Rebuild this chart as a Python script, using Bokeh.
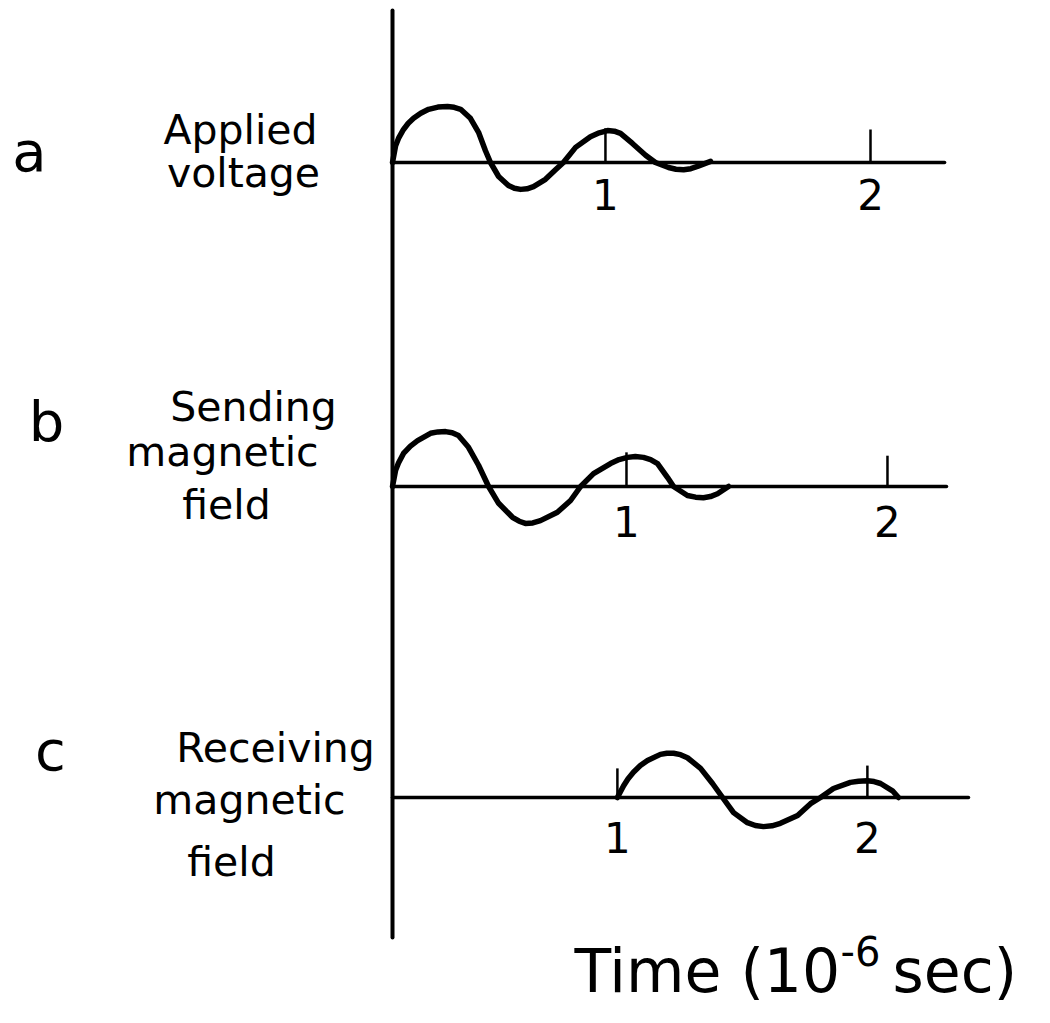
from bokeh.plotting import figure
from bokeh.models import Label, Range1d
from bokeh.embed import file_html
from bokeh.resources import INLINE
from bokeh.core.properties import value

# ---------------- data ----------------
# time in 10^-6 s, amplitude in arbitrary units (first peak of "a" = 1)
applied_t = [0.000, 0.013, 0.025, 0.046, 0.066, 0.088, 0.118, 0.151, 0.190, 0.230,
             0.258, 0.285, 0.326, 0.360, 0.389, 0.410, 0.444, 0.485, 0.510, 0.536,
             0.563, 0.590, 0.640, 0.682, 0.715, 0.766, 0.828, 0.865, 0.900, 0.928,
             0.954, 1.004, 1.059, 1.100, 1.155, 1.186, 1.218, 1.248, 1.276, 1.331]
applied_v = [0.00, 0.30, 0.43, 0.59, 0.70, 0.79, 0.88, 0.95, 0.99, 1.00,
             0.985, 0.95, 0.79, 0.54, 0.21, 0.00, -0.25, -0.41, -0.46, -0.48,
             -0.47, -0.43, -0.30, -0.13, 0.00, 0.27, 0.46, 0.53, 0.57, 0.56,
             0.52, 0.34, 0.13, 0.00, -0.09, -0.12, -0.13, -0.11, -0.07, 0.02]

sending_t = [0.000, 0.013, 0.025, 0.046, 0.075, 0.105, 0.159, 0.190, 0.222, 0.250,
             0.276, 0.318, 0.360, 0.402, 0.444, 0.502, 0.530, 0.556, 0.587, 0.619,
             0.690, 0.745, 0.787, 0.841, 0.912, 0.948, 0.983, 1.016, 1.050, 1.080,
             1.109, 1.151, 1.176, 1.234, 1.268, 1.301, 1.330, 1.360, 1.406]
sending_v = [0.00, 0.29, 0.42, 0.59, 0.72, 0.82, 0.95, 0.975, 0.98, 0.96,
             0.91, 0.70, 0.38, 0.00, -0.30, -0.55, -0.62, -0.66, -0.65, -0.61,
             -0.46, -0.25, 0.00, 0.23, 0.41, 0.48, 0.52, 0.535, 0.52, 0.48,
             0.41, 0.16, 0.00, -0.16, -0.19, -0.20, -0.18, -0.13, 0.00]

receiving_t = [0.941, 0.967, 0.985, 1.008, 1.037, 1.067, 1.121, 1.148, 1.176, 1.205,
               1.234, 1.289, 1.339, 1.381, 1.427, 1.485, 1.518, 1.552, 1.588, 1.623,
               1.695, 1.749, 1.791, 1.845, 1.916, 1.950, 1.987, 2.015, 2.042, 2.092,
               2.117]
receiving_v = [0.00, 0.21, 0.33, 0.45, 0.57, 0.66, 0.77, 0.79, 0.79, 0.765,
               0.71, 0.52, 0.25, 0.00, -0.27, -0.45, -0.50, -0.52, -0.505, -0.46,
               -0.32, -0.11, 0.00, 0.16, 0.27, 0.29, 0.30, 0.285, 0.25, 0.12,
               0.00]

tick_labels = ["1", "2"]
ticks_a = [0.891, 2.000]
ticks_b = [0.979, 2.071]
ticks_c = [0.941, 1.987]
tick_top_a = [0.61, 0.59]
tick_top_b = [0.61, 0.55]
tick_top_c = [0.52, 0.57]
baseline_end = [2.310, 2.318, 2.410]   # a, b, c

panel_letters = ["a", "b", "c"]
panel_names = [["Applied", "voltage"],
               ["Sending", "magnetic", "field"],
               ["Receiving", "magnetic", "field"]]
x_title_main = "Time (10"
x_title_sup = "-6"
x_title_end = "sec)"

# ---------------- layout ----------------
W, H = 1034, 1007
PX_T = 239.0          # pixels per microsecond
PX_A = 56.0           # pixels per amplitude unit
X0 = 392.0            # canvas x of t = 0
BASE_A = 162.0        # canvas y (from top) of each panel's baseline
BASE_B = 486.0
BASE_C = 797.0
SHIFT = 0.385         # baseline correction (em) for Bokeh's "alphabetic" anchor


def ydata(canvas_y):
    return (BASE_A - canvas_y) / PX_A


off = [ydata(BASE_A), ydata(BASE_B), ydata(BASE_C)]

p = figure(width=W, height=H, output_backend="svg", toolbar_location=None,
           x_axis_location=None, y_axis_location=None, min_border=0,
           x_range=Range1d(-X0 / PX_T, (W - X0) / PX_T),
           y_range=Range1d(ydata(H), ydata(0)),
           background_fill_color="white", border_fill_color="white",
           outline_line_color=None)
p.grid.visible = False

BLACK = "#000000"
FONT = "DejaVu Sans"

# vertical axis
p.segment(x0=[0], y0=[ydata(10)], x1=[0], y1=[ydata(937)], line_color=BLACK,
          line_width=4, line_cap="round")

# baselines
p.segment(x0=[0, 0, 0], y0=off, x1=baseline_end, y1=off, line_color=BLACK,
          line_width=3.5, line_cap="round")

# waveforms
series = [(applied_t, applied_v, off[0]),
          (sending_t, sending_v, off[1]),
          (receiving_t, receiving_v, off[2])]
for ts, vs, o in series:
    p.line(ts, [v + o for v in vs], line_color=BLACK, line_width=5.5,
           line_join="round", line_cap="round")

# ticks and tick labels
TICK_FS = 42
tick_sets = [(ticks_a, tick_top_a, off[0], 48),
             (ticks_b, tick_top_b, off[1], 51),
             (ticks_c, tick_top_c, off[2], 56)]
for tx, th, o, dy in tick_sets:
    p.segment(x0=tx, y0=[o, o], x1=tx, y1=[o + h for h in th],
              line_color=BLACK, line_width=2.5)
    p.text(x=tx, y=[o, o], text=tick_labels, y_offset=dy - SHIFT * TICK_FS,
           text_font=value(FONT), text_font_size=f"{TICK_FS}px", text_color=BLACK,
           text_align="center", text_baseline="alphabetic")


def add_label(txt, rx, ry, size, align="center"):
    # rx, ry: position (x and text baseline) measured from the top-left corner
    p.add_layout(Label(x=rx, y=H - (ry - SHIFT * size), x_units="screen",
                       y_units="screen", text=txt, text_font=FONT,
                       text_font_size=f"{size}px", text_color=BLACK,
                       text_align=align, text_baseline="alphabetic"))


# panel letters
add_label(panel_letters[0], 29, 173, 56)
add_label(panel_letters[1], 46, 443, 56)
add_label(panel_letters[2], 50, 772, 56)

# panel names
name_pos = [[(240, 145), (243, 188)],
            [(253, 422), (222, 467), (226, 520)],
            [(275, 763), (249, 815), (231, 877)]]
for names, poss in zip(panel_names, name_pos):
    for n, (rx, ry) in zip(names, poss):
        add_label(n, rx, ry, 41)

# x title
add_label(x_title_main, 574, 994, 60, align="left")
add_label(x_title_sup, 840, 966, 40, align="left")
add_label(x_title_end, 892, 994, 60, align="left")

open("out.html", "w").write(file_html(p, INLINE))
